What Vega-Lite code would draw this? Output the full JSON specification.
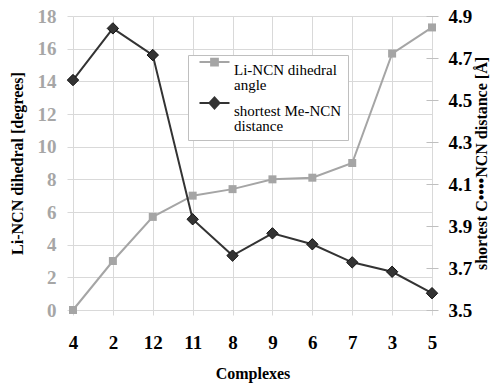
{
  "$schema": "https://vega.github.io/schema/vega-lite/v6.json",
  "width": 359,
  "height": 294,
  "autosize": {"type": "none"},
  "padding": {"left": 73, "top": 16, "right": 68, "bottom": 73},
  "background": "white",
  "config": {"font": "Liberation Serif", "view": {"stroke": null}},
  "data": {
    "values": [
      {"complex": "4", "dihedral": 0.0, "distance": 4.595},
      {"complex": "2", "dihedral": 3.0, "distance": 4.841},
      {"complex": "12", "dihedral": 5.7, "distance": 4.714},
      {"complex": "11", "dihedral": 7.0, "distance": 3.932},
      {"complex": "8", "dihedral": 7.4, "distance": 3.759},
      {"complex": "9", "dihedral": 8.0, "distance": 3.865},
      {"complex": "6", "dihedral": 8.1, "distance": 3.813},
      {"complex": "7", "dihedral": 9.0, "distance": 3.727},
      {"complex": "3", "dihedral": 15.7, "distance": 3.682},
      {"complex": "5", "dihedral": 17.3, "distance": 3.58}
    ]
  },
  "encoding": {
    "x": {
      "field": "complex",
      "type": "ordinal",
      "sort": null,
      "scale": {"type": "point", "padding": 0},
      "axis": {
        "title": "Complexes",
        "titleFontSize": 16,
        "titleFontWeight": "bold",
        "titleColor": "black",
        "titlePadding": 13,
        "labelAngle": 0,
        "labelFontSize": 19,
        "labelFontWeight": "bold",
        "labelColor": "black",
        "labelPadding": 18,
        "grid": true,
        "gridColor": "#d9d9d9",
        "domain": false,
        "ticks": true,
        "tickColor": "#d9d9d9",
        "tickSize": 5
      }
    }
  },
  "layer": [
    {
      "mark": {
        "type": "line",
        "strokeWidth": 2,
        "point": {"shape": "square", "size": 64, "filled": true}
      },
      "encoding": {
        "y": {
          "field": "dihedral",
          "type": "quantitative",
          "scale": {"domain": [0, 18], "nice": false},
          "axis": {
            "orient": "left",
            "values": [0, 2, 4, 6, 8, 10, 12, 14, 16, 18],
            "title": "Li-NCN dihedral [degrees]",
            "titleFontSize": 16,
            "titleFontWeight": "bold",
            "titleColor": "black",
            "titlePadding": 12,
            "labelFontSize": 19,
            "labelFontWeight": "bold",
            "labelColor": "#a6a6a6",
            "labelPadding": 11,
            "grid": true,
            "gridColor": "#d9d9d9",
            "domain": false,
            "ticks": true,
            "tickColor": "#d9d9d9",
            "tickSize": 6
          }
        },
        "color": {
          "datum": "Li-NCN dihedral angle",
          "type": "nominal",
          "scale": {
            "domain": ["Li-NCN dihedral angle", "shortest Me-NCN distance"],
            "range": ["#a5a5a5", "#333333"]
          },
          "legend": {
            "title": null,
            "orient": "none",
            "legendX": 115,
            "legendY": 39,
            "padding": 6,
            "strokeColor": "#bfbfbf",
            "fillColor": "white",
            "labelFont": "Liberation Serif",
            "labelFontSize": 15,
            "labelColor": "black",
            "labelLimit": 300,
            "labelOffset": 11,
            "symbolOffset": 12,
            "rowPadding": 0,
            "symbolSize": 225,
            "symbolStrokeWidth": 2,
            "labelExpr": "datum.label == 'Li-NCN dihedral angle' ? ['Li-NCN dihedral', 'angle'] : ['shortest Me-NCN', 'distance']",
            "encode": {
              "labels": {
                "update": {
                  "lineHeight": {"value": 15}
                }
              },
              "symbols": {
                "update": {
                  "shape": {"signal": "datum.value == 'Li-NCN dihedral angle' ? 'M-2,-1H2M-0.45,-1.45H0.45V-0.55H-0.45Z' : 'M-2,-1H2M-0.67,-1L0,-1.73L0.67,-1L0,-0.27Z'"},
                  "fill": {"signal": "datum.value == 'Li-NCN dihedral angle' ? '#a5a5a5' : '#333333'"},
                  "stroke": {"signal": "datum.value == 'Li-NCN dihedral angle' ? '#a5a5a5' : '#222222'"},
                  "strokeWidth": {"value": 2},
                  "opacity": {"value": 1}
                }
              }
            }
          }
        }
      }
    },
    {
      "mark": {
        "type": "line",
        "strokeWidth": 2,
        "point": {"shape": "diamond", "size": 130, "filled": true, "stroke": "#111111", "strokeWidth": 1}
      },
      "encoding": {
        "y": {
          "field": "distance",
          "type": "quantitative",
          "scale": {"domain": [3.5, 4.9], "nice": false, "zero": false},
          "axis": {
            "orient": "right",
            "values": [3.5, 3.7, 3.9, 4.1, 4.3, 4.5, 4.7, 4.9],
            "format": ".1f",
            "title": "shortest  C\u2022\u2022\u2022\u2022NCN distance [\u00c5]",
            "titleAngle": 270,
            "titleFontSize": 16,
            "titleFontWeight": "bold",
            "titleColor": "black",
            "titlePadding": 18,
            "labelFontSize": 19,
            "labelFontWeight": "bold",
            "labelColor": "black",
            "labelPadding": 10,
            "grid": false,
            "domain": false,
            "ticks": true,
            "offset": -6,
            "tickColor": "#bfbfbf",
            "tickSize": 12
          }
        },
        "color": {"datum": "shortest Me-NCN distance", "type": "nominal"}
      }
    }
  ],
  "resolve": {"scale": {"y": "independent"}}
}
